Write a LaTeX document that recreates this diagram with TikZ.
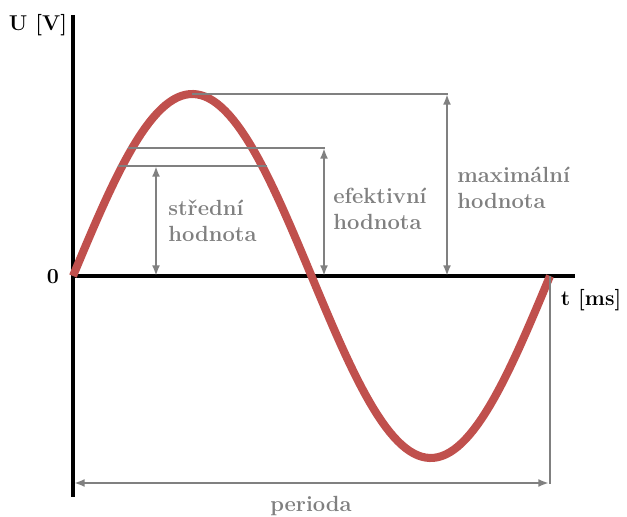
\documentclass[tikz,border=0pt]{standalone}
\usepackage{tikz}
\usetikzlibrary{arrows.meta,positioning}
\definecolor{sinered}{RGB}{192,80,77}
\definecolor{dimgray}{RGB}{128,128,128}

\begin{document}
\begin{tikzpicture}[
  x=0.02cm, y=-0.02cm,
  axis/.style={line width=2.4pt, black},
  dimline/.style={line width=1.7pt, dimgray},
  dimarrow/.style={dimline, {Latex[length=6pt,width=4.5pt]}-{Latex[length=6pt,width=4.5pt]}},
  lbl/.style={font=\fontsize{12.5}{15}\selectfont\bfseries, text=dimgray, align=left, anchor=west, inner sep=0pt},
  axlbl/.style={font=\fontsize{12.2}{14}\selectfont\bfseries, inner sep=0pt}
]
\useasboundingbox (0,0) rectangle (627,517);

% key points
\coordinate (O) at (73,276);
\coordinate (Utop) at (73,15);
\coordinate (Ubot) at (73,497);
\coordinate (Tend) at (575,276);
\coordinate (peak) at (192,94);
\coordinate (maxR) at (448,94);
\coordinate (maxtop) at (447,94);
\coordinate (maxbot) at (447,276);
\coordinate (efL) at (128,148);
\coordinate (efR) at (325,148);
\coordinate (eftop) at (324,148);
\coordinate (efbot) at (324,276);
\coordinate (stL) at (118,166);
\coordinate (stR) at (267,166);
\coordinate (sttop) at (156,166);
\coordinate (stbot) at (156,276);
\coordinate (Tzero) at (550,276);
\coordinate (perR) at (550,484);
\coordinate (perL) at (74,483);
\coordinate (perRtip) at (549,483);

% axes
\draw[axis] (Utop) -- (Ubot);
\draw[axis] (O) -- (Tend);

% the sine (period 477px, amplitude 182px)
\draw[sinered, line width=4.6pt] plot[domain=0:360, samples=120]
  ({73+1.325*\x}, {276-182*sin(\x)});

% value markers
\draw[dimline] (peak) -- (maxR);
\draw[dimarrow] (maxtop) -- (maxbot);
\draw[dimline] (efL) -- (efR);
\draw[dimarrow] (eftop) -- (efbot);
\draw[dimline] (stL) -- (stR);
\draw[dimarrow] (sttop) -- (stbot);
\draw[dimline] (Tzero) -- (perR);
\draw[dimarrow] (perL) -- (perRtip);

% labels
\node[axlbl] (ulabel) at (38,25) {U [V]};
\node[axlbl] (tlabel) at (591,300) {t [ms]};
\node[axlbl] (zero) at (53,277) {0};
\node[lbl] (stredni) at (168,221) {střední\\hodnota};
\node[lbl] (efektivni) at (333,209) {efektivní\\hodnota};
\node[lbl] (maximalni) at (457,188) {maximální\\hodnota};
\node[lbl, anchor=center] (perioda) at (311,506) {perioda};
\end{tikzpicture}
\end{document}
